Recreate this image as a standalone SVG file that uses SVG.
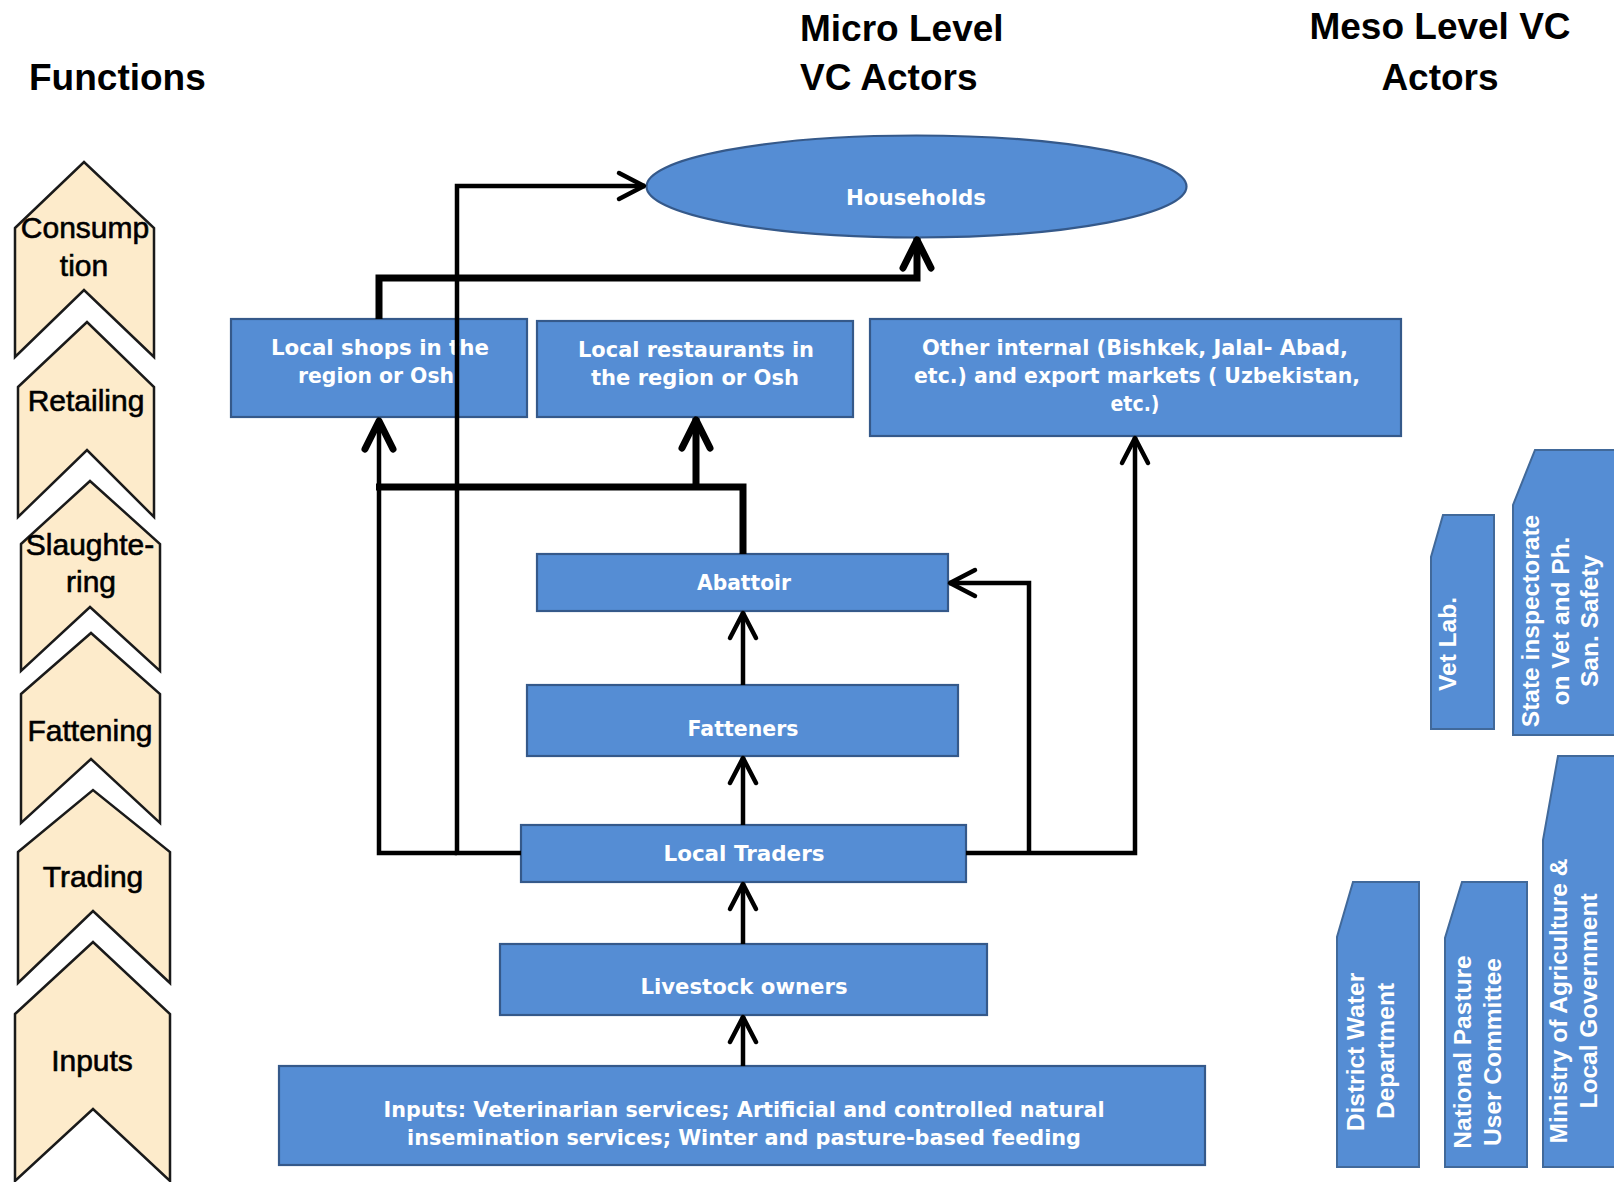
<svg xmlns="http://www.w3.org/2000/svg" width="1614" height="1182" viewBox="0 0 1614 1182">
<defs>
<style>
.title{font-family:"Liberation Sans",Arial,sans-serif;font-weight:bold;font-size:37px;fill:#000}
.chev{fill:#FDEBCB;stroke:#1a1a1a;stroke-width:2.5;stroke-linejoin:miter}
.ftxt{font-family:"Liberation Sans",Arial,sans-serif;font-size:30px;fill:#000;stroke:#000;stroke-width:0.6;text-anchor:middle}
.box{fill:#558DD4;stroke:#35598A;stroke-width:2.2}
.ntxt{font-family:"DejaVu Sans",Verdana,sans-serif;font-weight:bold;font-size:21px;fill:#fff;text-anchor:middle}
.meso{fill:#558DD4;stroke:#41699A;stroke-width:2}
.mtxt{font-family:"Liberation Sans",Arial,sans-serif;font-weight:bold;font-size:24.5px;fill:#fff;text-anchor:middle}
.c{fill:none;stroke:#000;stroke-width:4.5;stroke-linejoin:miter}
.ck{fill:none;stroke:#000;stroke-width:7;stroke-linejoin:miter}
</style>
<marker id="ah" markerUnits="userSpaceOnUse" markerWidth="40" markerHeight="40" refX="1" refY="0" orient="auto" overflow="visible">
<path d="M -25 -13 L 0 0 L -25 13" fill="none" stroke="#000" stroke-width="4.5" stroke-linecap="round" stroke-linejoin="round"/>
</marker>
<marker id="ahk" markerUnits="userSpaceOnUse" markerWidth="40" markerHeight="40" refX="2" refY="0" orient="auto" overflow="visible">
<path d="M -28 -14 L 0 0 L -28 14" fill="none" stroke="#000" stroke-width="7" stroke-linecap="round" stroke-linejoin="round"/>
</marker>
</defs>
<rect x="0" y="0" width="1614" height="1182" fill="#fff"/>

<g id="titles">
<text class="title" x="29" y="90">Functions</text>
<text class="title" x="800" y="41">Micro Level</text>
<text class="title" x="800" y="90">VC Actors</text>
<text class="title" x="1440" y="39" text-anchor="middle">Meso Level VC</text>
<text class="title" x="1440" y="90" text-anchor="middle">Actors</text>
</g>

<g id="functions">
<g id="f-consumption">
<polygon class="chev" points="15,228 84,162 154,228 154,357 84,290 15,357"/>
<text class="ftxt" x="85" y="238">Consump</text>
<text class="ftxt" x="84" y="276">tion</text>
</g>
<g id="f-retailing">
<polygon class="chev" points="18,387 87,322 154,387 154,517 87,450 18,517"/>
<text class="ftxt" x="86" y="411">Retailing</text>
</g>
<g id="f-slaughtering">
<polygon class="chev" points="21,544 90,481 160,544 160,671 90,607 21,671"/>
<text class="ftxt" x="90" y="555">Slaughte-</text>
<text class="ftxt" x="91" y="592">ring</text>
</g>
<g id="f-fattening">
<polygon class="chev" points="21,694 91,633 160,694 160,823 91,759 21,823"/>
<text class="ftxt" x="90" y="741">Fattening</text>
</g>
<g id="f-trading">
<polygon class="chev" points="18,852 93,790 170,852 170,983 93,911 18,983"/>
<text class="ftxt" x="93" y="887">Trading</text>
</g>
<g id="f-inputs">
<polygon class="chev" points="15,1014 93,942 170,1014 170,1181 93,1109 15,1181"/>
<text class="ftxt" x="92" y="1071">Inputs</text>
</g>
</g>

<g id="households">
<ellipse class="box" cx="916.5" cy="186.5" rx="270" ry="51"/>
<text class="ntxt" x="916" y="205" textLength="140" lengthAdjust="spacingAndGlyphs">Households</text>
</g>
<g id="local-shops">
<rect class="box" x="231" y="319" width="296" height="98"/>
<text class="ntxt" x="380" y="355" textLength="218" lengthAdjust="spacingAndGlyphs">Local shops in the</text>
<text class="ntxt" x="376" y="383" textLength="156" lengthAdjust="spacingAndGlyphs">region or Osh</text>
</g>
<g id="local-restaurants">
<rect class="box" x="537" y="321" width="316" height="96"/>
<text class="ntxt" x="696" y="357" textLength="236" lengthAdjust="spacingAndGlyphs">Local restaurants in</text>
<text class="ntxt" x="695" y="385" textLength="208" lengthAdjust="spacingAndGlyphs">the region or Osh</text>
</g>
<g id="other-markets">
<rect class="box" x="870" y="319" width="531" height="117"/>
<text class="ntxt" x="1135" y="355" textLength="426" lengthAdjust="spacingAndGlyphs">Other internal (Bishkek, Jalal- Abad,</text>
<text class="ntxt" x="1137" y="383" textLength="446" lengthAdjust="spacingAndGlyphs">etc.) and export markets ( Uzbekistan,</text>
<text class="ntxt" x="1135" y="411" textLength="49" lengthAdjust="spacingAndGlyphs">etc.)</text>
</g>
<g id="abattoir">
<rect class="box" x="537" y="554" width="411" height="57"/>
<text class="ntxt" x="744" y="590" textLength="94" lengthAdjust="spacingAndGlyphs">Abattoir</text>
</g>
<g id="fatteners">
<rect class="box" x="527" y="685" width="431" height="71"/>
<text class="ntxt" x="743" y="736" textLength="111" lengthAdjust="spacingAndGlyphs">Fatteners</text>
</g>
<g id="local-traders">
<rect class="box" x="521" y="825" width="445" height="57"/>
<text class="ntxt" x="744" y="861" textLength="161" lengthAdjust="spacingAndGlyphs">Local Traders</text>
</g>
<g id="livestock-owners">
<rect class="box" x="500" y="944" width="487" height="71"/>
<text class="ntxt" x="744" y="994" textLength="207" lengthAdjust="spacingAndGlyphs">Livestock owners</text>
</g>
<g id="inputs">
<rect class="box" x="279" y="1066" width="926" height="99"/>
<text class="ntxt" x="744" y="1117" textLength="721" lengthAdjust="spacingAndGlyphs">Inputs: Veterinarian services; Artificial and controlled natural</text>
<text class="ntxt" x="744" y="1145" textLength="674" lengthAdjust="spacingAndGlyphs">insemination services; Winter and pasture-based feeding</text>
</g>

<g id="connectors">
<path class="c" d="M 521 853 H 457 V 186 H 645" marker-end="url(#ah)"/>
<path class="c" d="M 457 853 H 379 V 419" marker-end="url(#ahk)"/>
<path class="ck" d="M 379 319 V 278 H 917 V 238" marker-end="url(#ahk)"/>
<path class="ck" d="M 743 554 V 487 H 376"/>
<path class="ck" d="M 696 487 V 418" marker-end="url(#ahk)"/>
<path class="c" d="M 743 685 V 612" marker-end="url(#ah)"/>
<path class="c" d="M 743 825 V 757" marker-end="url(#ah)"/>
<path class="c" d="M 743 944 V 883" marker-end="url(#ah)"/>
<path class="c" d="M 743 1066 V 1016" marker-end="url(#ah)"/>
<path class="c" d="M 966 853 H 1135 V 437" marker-end="url(#ah)"/>
<path class="c" d="M 1029 853 V 583 H 949" marker-end="url(#ah)"/>
</g>

<g id="vet-lab">
<polygon class="meso" points="1431,729 1431,557 1443,515 1494,515 1494,729"/>
<text class="mtxt" transform="translate(1456,644) rotate(-90)">Vet Lab.</text>
</g>
<g id="state-inspectorate">
<polygon class="meso" points="1513,735 1513,505 1535,450 1617,450 1617,735"/>
<text class="mtxt" transform="translate(1539,621) rotate(-90)">State inspectorate</text>
<text class="mtxt" transform="translate(1569,621) rotate(-90)">on Vet and Ph.</text>
<text class="mtxt" transform="translate(1598,621) rotate(-90)">San. Safety</text>
</g>
<g id="district-water">
<polygon class="meso" points="1337,1167 1337,937 1353,882 1419,882 1419,1167"/>
<text class="mtxt" transform="translate(1364,1052) rotate(-90)">District Water</text>
<text class="mtxt" transform="translate(1394,1051) rotate(-90)">Department</text>
</g>
<g id="national-pasture">
<polygon class="meso" points="1445,1167 1445,938 1462,882 1527,882 1527,1167"/>
<text class="mtxt" transform="translate(1471,1052) rotate(-90)">National Pasture</text>
<text class="mtxt" transform="translate(1501,1052) rotate(-90)">User Committee</text>
</g>
<g id="ministry">
<polygon class="meso" points="1543,1167 1543,840 1558,756 1617,756 1617,1167"/>
<text class="mtxt" transform="translate(1567,1001) rotate(-90)">Ministry of Agriculture &amp;</text>
<text class="mtxt" transform="translate(1597,1001) rotate(-90)">Local Government</text>
</g>
</svg>
